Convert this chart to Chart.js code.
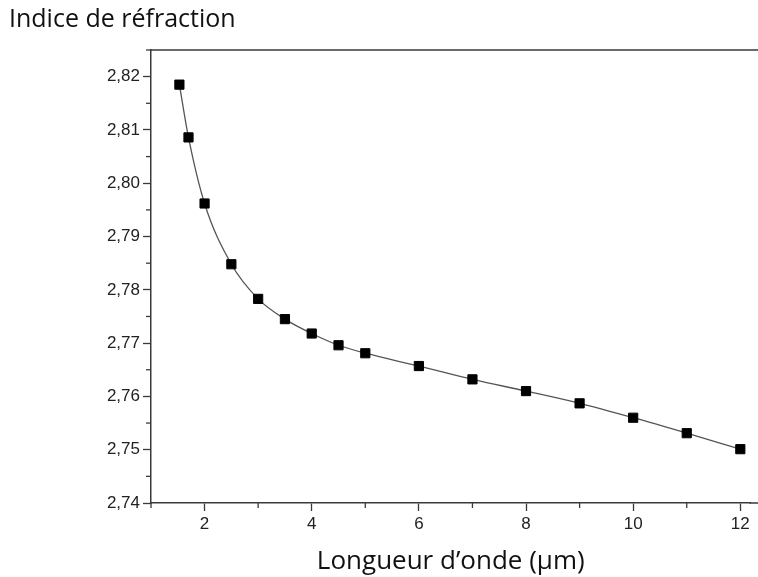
<!DOCTYPE html>
<html>
<head>
<meta charset="utf-8">
<script src="https://cdn.jsdelivr.net/npm/chart.js@4"></script>
<style>
  html, body { margin: 0; padding: 0; background: #fff; }
  #wrap { width: 758px; height: 577px; }
</style>
</head>
<body>
<div id="wrap"><canvas id="myChart" width="758" height="577"></canvas></div>
<script>
// wavelength (µm) and refractive index
var wavelength = [1.53, 1.7, 2, 2.5, 3, 3.5, 4, 4.5, 5, 6, 7, 8, 9, 10, 11, 12];
var refIndex = [2.8185, 2.8086, 2.7962, 2.7848, 2.7783, 2.7745, 2.7718, 2.7696,
  2.7681, 2.7657, 2.7632, 2.761, 2.7587, 2.756, 2.7531, 2.7501];

var xTicks = [2, 4, 6, 8, 10, 12];
var xMinorTicks = [1, 3, 5, 7, 9, 11];
var yTicks = [2.74, 2.75, 2.76, 2.77, 2.78, 2.79, 2.80, 2.81, 2.82];
var yMinorTicks = [2.745, 2.755, 2.765, 2.775, 2.785, 2.795, 2.805, 2.815, 2.825];

var yTitle = "Indice de réfraction";
var xTitle = "Longueur d’onde (µm)";

var axisColor = "#3a3a3a";

// minor ticks, frame lines running to the edge and the top-left title
var extras = {
  id: "extras",
  afterDraw: function (chart) {
    var c = chart.ctx;
    var area = chart.chartArea;
    var xs = chart.scales.x;
    var ys = chart.scales.y;
    c.save();
    c.strokeStyle = axisColor;
    c.lineWidth = 1.5;
    c.beginPath();
    c.moveTo(area.left, area.top);
    c.lineTo(chart.width, area.top);
    c.moveTo(area.right - 1, area.bottom);
    c.lineTo(chart.width, area.bottom);
    c.stroke();
    c.lineWidth = 1.3;
    xMinorTicks.forEach(function (v) {
      var px = xs.getPixelForValue(v);
      c.beginPath();
      c.moveTo(px, area.bottom);
      c.lineTo(px, area.bottom + 5);
      c.stroke();
    });
    yMinorTicks.forEach(function (v) {
      var py = ys.getPixelForValue(v);
      c.beginPath();
      c.moveTo(area.left, py);
      c.lineTo(area.left - 5, py);
      c.stroke();
    });
    c.fillStyle = "#111";
    c.font = "25px 'Open Sans'";
    c.textBaseline = "middle";
    c.textAlign = "left";
    c.fillText(yTitle, 9, 20);
    c.restore();
  },
};

var ctx = document.getElementById("myChart").getContext("2d");

var myChart = new Chart(ctx, {
  type: "line",
  data: {
    datasets: [
      {
        data: wavelength.map(function (w, i) {
          return { x: w, y: refIndex[i] };
        }),
        borderColor: "#555",
        borderWidth: 1.3,
        cubicInterpolationMode: "monotone",
        pointStyle: "rect",
        pointRadius: 6.5,
        pointBackgroundColor: "#000",
        pointBorderColor: "#000",
        pointBorderWidth: 1,
        fill: false,
      },
    ],
  },
  options: {
    responsive: false,
    animation: false,
    layout: {
      padding: { top: 50, right: 0, left: 0, bottom: 0 },
    },
    plugins: {
      legend: { display: false },
      tooltip: { enabled: false },
    },
    scales: {
      x: {
        type: "linear",
        min: 1,
        max: 12.19,
        afterBuildTicks: function (scale) {
          scale.ticks = xTicks.map(function (v) {
            return { value: v };
          });
        },
        afterFit: function (scale) {
          scale.height = 74;
        },
        border: { color: axisColor, width: 1.5 },
        grid: {
          drawOnChartArea: false,
          drawTicks: true,
          tickLength: 8,
          tickColor: axisColor,
          tickWidth: 1.3,
        },
        ticks: {
          color: "#222",
          font: { family: "'Liberation Sans', Arial", size: 17 },
          padding: 3,
          maxRotation: 0,
        },
        title: {
          display: true,
          text: xTitle,
          color: "#111",
          font: { family: "'Open Sans'", size: 26 },
          padding: { top: 0, bottom: 0 },
        },
      },
      y: {
        type: "linear",
        min: 2.74,
        max: 2.825,
        afterBuildTicks: function (scale) {
          scale.ticks = yTicks.map(function (v) {
            return { value: v };
          });
        },
        afterFit: function (scale) {
          scale.width = 151;
        },
        border: { color: axisColor, width: 1.5 },
        grid: {
          drawOnChartArea: false,
          drawTicks: true,
          tickLength: 8,
          tickColor: axisColor,
          tickWidth: 1.3,
        },
        ticks: {
          color: "#222",
          font: { family: "'Liberation Sans', Arial", size: 17 },
          padding: 3,
          callback: function (v) {
            return v.toFixed(2).replace(".", ",");
          },
        },
      },
    },
  },
  plugins: [extras],
});
</script>
</body>
</html>
